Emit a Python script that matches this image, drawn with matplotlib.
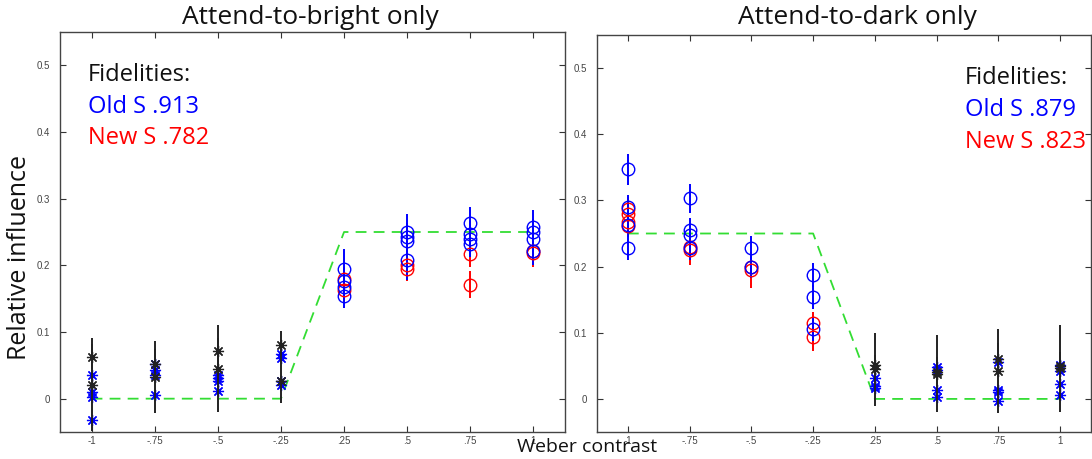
import numpy as np
import matplotlib
matplotlib.use("Agg")
import matplotlib.pyplot as plt

# x categories (Weber contrast)
contrasts = [-1, -.75, -.5, -.25, .25, .5, .75, 1]
tick_labels = ['-1', '-.75', '-.5', '-.25', '.25', '.5', '.75', '1']

# ---- Attend-to-bright only ----
L_black_x = [-1, -1, -.75, -.75, -.5, -.5, -.25, -.25]
L_black_y = [0.063, 0.021, 0.052, 0.032, 0.071, 0.045, 0.080, 0.026]
L_black_e = [0.019, 0.070, 0.022, 0.054, 0.020, 0.065, 0.021, 0.033]

L_bstar_x = [-1, -1, -1, -1, -.75, -.75, -.75, -.75, -.5, -.5, -.5, -.5, -.25, -.25, -.25, -.25]
L_bstar_y = [0.036, 0.010, 0.002, -0.032, 0.052, 0.043, 0.036, 0.006,
             0.036, 0.031, 0.026, 0.011, 0.067, 0.061, 0.026, 0.021]

L_blue_x = [.25, .25, .25, .25, .5, .5, .5, .5, .75, .75, .75, .75, 1, 1, 1, 1]
L_blue_y = [0.194, 0.176, 0.167, 0.154, 0.250, 0.243, 0.237, 0.208,
            0.264, 0.247, 0.240, 0.232, 0.257, 0.250, 0.240, 0.221]
L_blue_e = [0.030, 0.020, 0.020, 0.018, 0.027, 0.020, 0.020, 0.030,
            0.023, 0.020, 0.020, 0.020, 0.026, 0.020, 0.020, 0.020]

L_red_x = [.25, .25, .5, .5, .75, .75, 1, 1]
L_red_y = [0.179, 0.163, 0.201, 0.195, 0.217, 0.171, 0.222, 0.219]
L_red_e = [0.018, 0.018, 0.018, 0.018, 0.020, 0.020, 0.020, 0.022]

L_model_y = [0, 0, 0, 0, 0.25, 0.25, 0.25, 0.25]

# ---- Attend-to-dark only ----
R_blue_x = [-1, -1, -1, -1, -.75, -.75, -.75, -.75, -.5, -.5, -.25, -.25, -.25]
R_blue_y = [0.347, 0.290, 0.263, 0.228, 0.303, 0.256, 0.247, 0.228,
            0.228, 0.200, 0.187, 0.154, 0.106]
R_blue_e = [0.023, 0.018, 0.018, 0.018, 0.022, 0.018, 0.018, 0.018,
            0.018, 0.018, 0.018, 0.018, 0.018]

R_red_x = [-1, -1, -1, -1, -.75, -.75, -.5, -.5, -.25, -.25]
R_red_y = [0.287, 0.280, 0.267, 0.262, 0.230, 0.225, 0.200, 0.195, 0.114, 0.094]
R_red_e = [0.018, 0.018, 0.018, 0.018, 0.018, 0.023, 0.018, 0.027, 0.018, 0.022]

R_black_x = [.25, .25, .5, .5, .75, .75, 1, 1]
R_black_y = [0.051, 0.045, 0.041, 0.038, 0.061, 0.042, 0.050, 0.046]
R_black_e = [0.015, 0.055, 0.022, 0.058, 0.023, 0.064, 0.021, 0.066]

R_bstar_x = [.25, .25, .25, .5, .5, .5, .5, .75, .75, .75, .75, 1, 1, 1, 1]
R_bstar_y = [0.031, 0.020, 0.016, 0.048, 0.044, 0.013, 0.003,
             0.056, 0.013, 0.011, -0.003, 0.052, 0.042, 0.023, 0.006]

R_model_y = [0.25, 0.25, 0.25, 0.25, 0, 0, 0, 0]

titles = ['Attend-to-bright only', 'Attend-to-dark only']
fid_old = ['Old S .913', 'Old S .879']
fid_new = ['New S .782', 'New S .823']

W, H = 1092, 459
TXT = 'Open Sans'
STAR = (8, 2, 0)


def idx(xs):
    return [contrasts.index(v) for v in xs]


def fx(px):
    return px / W


def fy(py):
    return 1 - py / H


fig = plt.figure(figsize=(W / 100, H / 100), dpi=100)
axL = fig.add_axes([fx(60), fy(432), fx(505), 400 / H])
axR = fig.add_axes([fx(597), fy(432), fx(494), 397 / H])

for ax, model in ((axL, L_model_y), (axR, R_model_y)):
    ax.plot(range(8), model, color='#33dd33', lw=1.3, dashes=(6, 4), zorder=1)

# left panel marks
axL.plot(idx(L_bstar_x), L_bstar_y, ls='none', marker=STAR, ms=8, mew=0.9,
         color='blue', zorder=3)
axL.errorbar(idx(L_black_x), L_black_y, yerr=L_black_e, fmt='none',
             ecolor='#222222', elinewidth=1.4, zorder=4)
axL.plot(idx(L_black_x), L_black_y, ls='none', marker=STAR, ms=8, mew=0.9,
         color='#222222', zorder=4)
axL.errorbar(idx(L_red_x), L_red_y, yerr=L_red_e, fmt='o', ms=9, mfc='none',
             mec='red', mew=1.0, ecolor='red', elinewidth=1.4, zorder=3)
axL.errorbar(idx(L_blue_x), L_blue_y, yerr=L_blue_e, fmt='o', ms=9, mfc='none',
             mec='blue', mew=1.0, ecolor='blue', elinewidth=1.4, zorder=3)

# right panel marks
axR.errorbar(idx(R_red_x), R_red_y, yerr=R_red_e, fmt='o', ms=9, mfc='none',
             mec='red', mew=1.0, ecolor='red', elinewidth=1.4, zorder=3)
axR.errorbar(idx(R_blue_x), R_blue_y, yerr=R_blue_e, fmt='o', ms=9, mfc='none',
             mec='blue', mew=1.0, ecolor='blue', elinewidth=1.4, zorder=3)
axR.plot(idx(R_bstar_x), R_bstar_y, ls='none', marker=STAR, ms=8, mew=0.9,
         color='blue', zorder=3)
axR.errorbar(idx(R_black_x), R_black_y, yerr=R_black_e, fmt='none',
             ecolor='#222222', elinewidth=1.4, zorder=4)
axR.plot(idx(R_black_x), R_black_y, ls='none', marker=STAR, ms=8, mew=0.9,
         color='#222222', zorder=4)

for ax in (axL, axR):
    ax.set_xlim(-0.5, 7.5)
    ax.set_ylim(-0.05, 0.55)
    ax.set_xticks(range(8))
    ax.set_xticklabels(tick_labels)
    ax.set_yticks([0, 0.1, 0.2, 0.3, 0.4, 0.5])
    ax.set_yticklabels(['0', '0.1', '0.2', '0.3', '0.4', '0.5'])
    ax.tick_params(direction='in', top=True, right=True, length=4, width=0.8,
                   color='#333333', labelsize=7, labelcolor='#444444')
    ax.tick_params(axis='y', pad=7)
    ax.tick_params(axis='x', pad=3)
    for s in ax.spines.values():
        s.set_color('#444444')
        s.set_linewidth(1.0)
    for lab in ax.get_xticklabels() + ax.get_yticklabels():
        lab.set_family('Liberation Sans')

# titles and texts
fig.text(fx(310), fy(17), titles[0], ha='center', va='center', fontsize=19,
         family=TXT, color='#111111')
fig.text(fx(857), fy(17), titles[1], ha='center', va='center', fontsize=19,
         family=TXT, color='#111111')

for x0, ys, i in ((88, (75, 107, 138), 0), (965, (78, 110, 142), 1)):
    fig.text(fx(x0), fy(ys[0]), 'Fidelities:', ha='left', va='center',
             fontsize=17, family=TXT, color='#111111')
    fig.text(fx(x0), fy(ys[1]), fid_old[i], ha='left', va='center',
             fontsize=17, family=TXT, color='blue')
    fig.text(fx(x0), fy(ys[2]), fid_new[i], ha='left', va='center',
             fontsize=17, family=TXT, color='red')

fig.text(fx(587), fy(447), 'Weber contrast', ha='center', va='center',
         fontsize=14, family=TXT, color='#111111')
fig.text(fx(20), fy(258), 'Relative influence', ha='center', va='center',
         rotation=90, fontsize=18, family=TXT, color='#111111')

fig.savefig('out.png', dpi=100)
